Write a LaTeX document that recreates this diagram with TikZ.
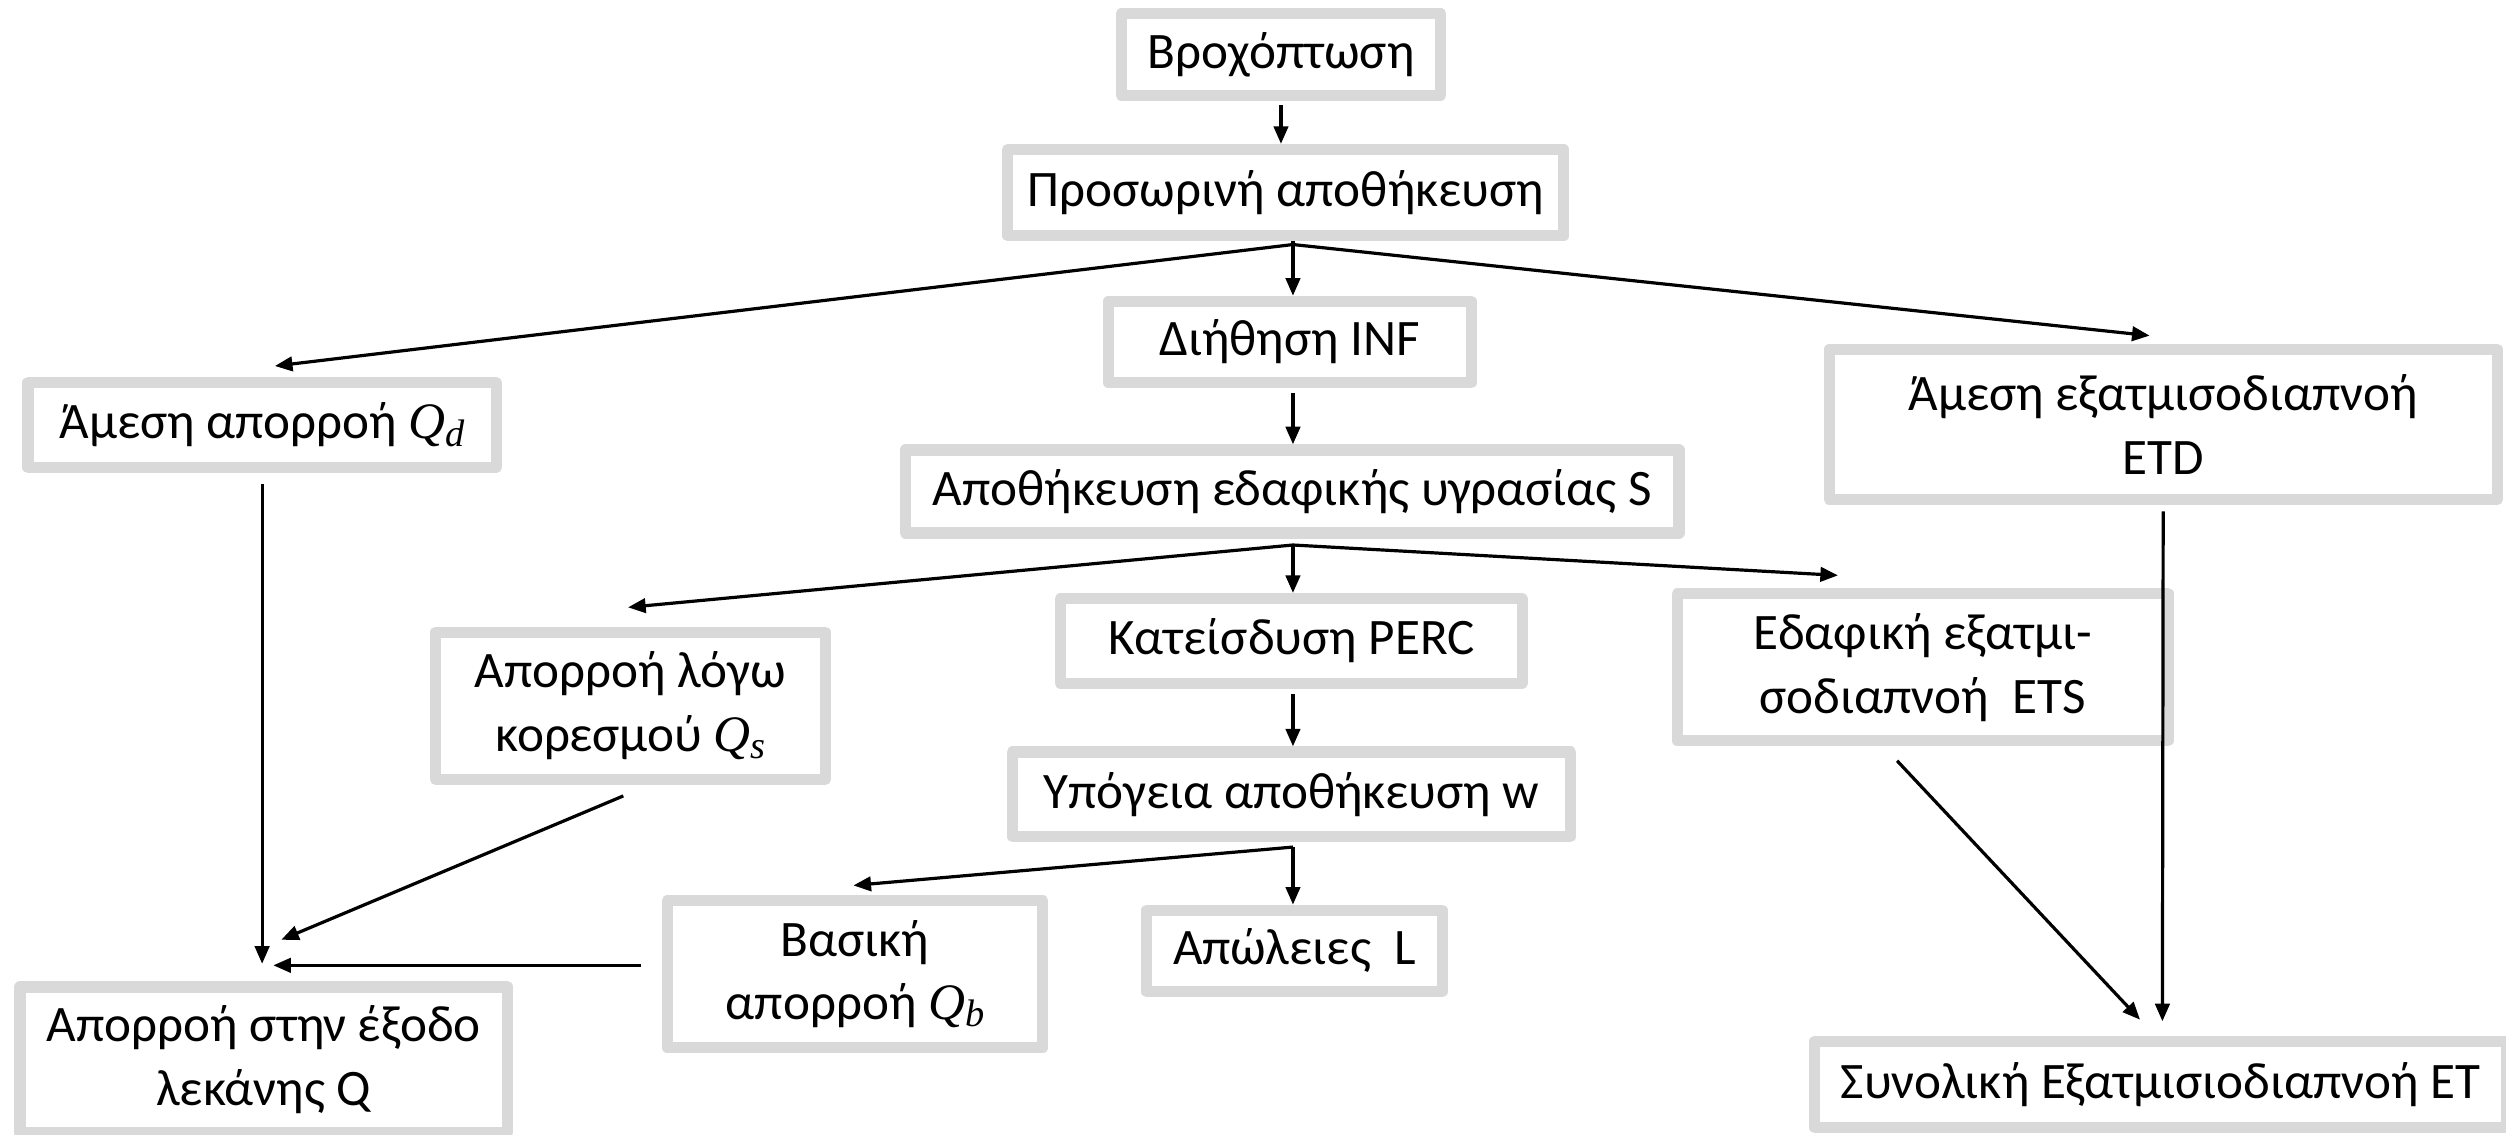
\documentclass[tikz,border=0pt]{standalone}
\usepackage{fontspec}
\setmainfont{Carlito}
\newfontfamily\symfont{Liberation Serif}
\usetikzlibrary{arrows.meta,calc}
\definecolor{boxgray}{HTML}{D9D9D9}
% italic flow symbol with a lowered subscript
\newcommand{\qsym}[1]{{\symfont\itshape Q\raisebox{-0.3ex}{\fontsize{24}{24}\selectfont #1}}}

\begin{document}
\begin{tikzpicture}[x=1pt,y=-1pt,
  box/.style={draw=boxgray, line width=7pt, line join=round, fill=white,
    align=center, inner sep=0pt, font=\fontsize{32}{40}\selectfont},
  flow/.style={line width=2pt, -{Triangle[length=11pt,width=9pt]}},
  link/.style={line width=2pt}]
\useasboundingbox (0,0) rectangle (1568,710);

% storages and fluxes
\node[box, minimum width=200pt, minimum height=51pt] (rain)  at (801.5,34)   {Βροχόπτωση};
\node[box, minimum width=348pt, minimum height=54pt] (tmp)   at (804.5,120.5) {Προσωρινή αποθήκευση};
\node[box, minimum width=227pt, minimum height=51pt] (inf)   at (807,214)    {Διήθηση INF};
\node[box, minimum width=293pt, minimum height=53pt] (qd)    at (164,266)    {Άμεση απορροή \qsym{d}};
\node[box, minimum width=418pt, minimum height=94pt] (etd)   at (1353.5,265.5) {Άμεση εξατμισοδιαπνοή\\ETD};
\node[box, minimum width=484pt, minimum height=52pt] (soil)  at (808.5,307.5) {Αποθήκευση εδαφικής υγρασίας S};
\node[box, minimum width=244pt, minimum height=92pt] (qs)    at (394.5,441.5) {Απορροή λόγω\\κορεσμού \qsym{s}};
\node[box, minimum width=289pt, minimum height=53pt] (perc)  at (808,401)    {Κατείσδυση PERC};
\node[box, minimum width=307pt, minimum height=92pt] (ets)   at (1203,417.5) {Εδαφική εξατμι-\\σοδιαπνοή\ \ ETS};
\node[box, minimum width=349pt, minimum height=53pt] (gw)    at (808,497)    {Υπόγεια αποθήκευση w};
\node[box, minimum width=235pt, minimum height=92pt] (qb)    at (535,609.5)  {Βασική\\απορροή \qsym{b}};
\node[box, minimum width=185pt, minimum height=51pt] (loss)  at (810,595)    {Απώλειες\ \ L};
\node[box, minimum width=305pt, minimum height=91pt] (qout)  at (165,663)    {Απορροή στην έξοδο\\λεκάνης Q};
\node[box, minimum width=433pt, minimum height=54pt] (et)    at (1352,678.5) {Συνολική Εξατμισιοδιαπνοή ET};

% junctions and arrow ends
\coordinate (j1) at (809,153);
\coordinate (j2) at (809,341);
\coordinate (j3) at (809,530);
\coordinate (toqd)  at (172,229);
\coordinate (toetd) at (1345,210);
\coordinate (toqs)  at (393,380);
\coordinate (toets) at (1150,360);
\coordinate (toqb)  at (534,554);
\coordinate (qin1)  at (164,603);
\coordinate (qin2)  at (176,588);
\coordinate (qin3)  at (171,604);
\coordinate (etin1) at (1339,638);
\coordinate (etin2) at (1353,639);

% vertical chain
\draw[flow, shorten <=3pt] (rain.south) -- (rain.south |- tmp.north);
\draw[link] (tmp.south -| j1) -- (j1);
\draw[flow] (j1) -- (j1 |- inf.north);
\draw[flow] (j1) -- (toqd);
\draw[flow] (j1) -- (toetd);
\draw[flow, shorten <=3pt] (inf.south -| j1) -- (j1 |- soil.north);
\draw[flow] (j2) -- (j2 |- perc.north);
\draw[flow] (j2) -- (toqs);
\draw[flow] (j2) -- (toets);
\draw[flow, shorten <=3pt] (perc.south -| j2) -- (j2 |- gw.north);
\draw[flow] (j3) -- (j3 |- loss.north);
\draw[flow] (j3) -- (toqb);

% runoff towards the outlet
\draw[flow, shorten <=7pt] (qd.south) -- (qin1);
\draw[flow] ($(qs.south)+(-4.5,7)$) -- (qin2);
\draw[flow, shorten <=13pt] (qb.west |- qin3) -- (qin3);

% evapotranspiration towards the total
\draw[flow] ($(ets.south)+(-16,9)$) -- (etin1);
\draw[flow, shorten <=4pt] (etd.south) -- (etin2);
\end{tikzpicture}
\end{document}
